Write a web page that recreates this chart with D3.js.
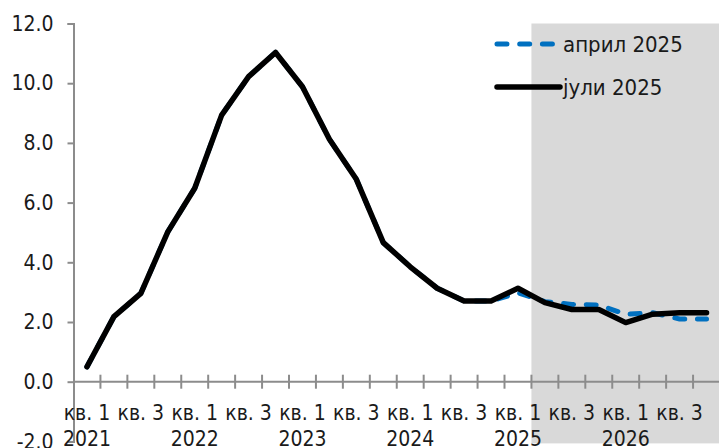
<!DOCTYPE html>
<html>
<head>
<meta charset="utf-8">
<script src="https://cdn.jsdelivr.net/npm/d3@7"></script>
<style>
  html, body { margin: 0; padding: 0; background: #ffffff; }
  svg { display: block; }
  text { font-family: "DejaVu Sans Condensed", "DejaVu Sans", sans-serif; font-stretch: condensed; fill: #1a1a1a; }
</style>
</head>
<body>
<svg id="chart" width="719" height="448"></svg>
<script>
// Quarters 2021 Q1 – 2026 Q4
const quarters = ["кв. 1","кв. 2","кв. 3","кв. 4"];
const years = [2021, 2022, 2023, 2024, 2025, 2026];
const categories = years.flatMap(y => quarters.map(q => ({ q, y })));

// Inflation path, July 2025 projection
const july2025 = [0.50, 2.18, 2.96, 5.02, 6.48, 8.93, 10.22, 11.03, 9.88, 8.12, 6.78, 4.66,
                  3.85, 3.13, 2.70, 2.70, 3.13, 2.65, 2.42, 2.42, 1.98, 2.26, 2.31, 2.31];
// Inflation path, April 2025 projection
const april2025 = [0.50, 2.18, 2.96, 5.02, 6.48, 8.93, 10.22, 11.03, 9.88, 8.12, 6.78, 4.66,
                   3.85, 3.13, 2.70, 2.70, 2.98, 2.68, 2.59, 2.57, 2.26, 2.31, 2.10, 2.10];

const yTicks = [-2, 0, 2, 4, 6, 8, 10, 12];
const forecastStart = 17; // 2025 Q2 onward is shaded

const seriesNames = ["април 2025", "јули 2025"];

const svg = d3.select("#chart");
const plotLeft = 73.5, plotRight = 720, plotTop = 23.5, plotBottom = 441.4;

const x = d3.scaleBand()
  .domain(d3.range(categories.length))
  .range([plotLeft, plotRight])
  .padding(0);
const y = d3.scaleLinear().domain([-2, 12]).range([plotBottom, plotTop]);
const cx = i => x(i) + x.bandwidth() / 2;

const axisColor = "#8c8c8c";

// shaded projection period
svg.append("rect")
  .attr("x", x(forecastStart))
  .attr("y", y(12))
  .attr("width", plotRight - x(forecastStart) + 5)
  .attr("height", y(-2) - y(12) + 2)
  .attr("fill", "#d9d9d9");

// y axis (plain hyphen for negative numbers)
const fmt = d3.format(".1f");
const yAxis = d3.axisLeft(y).tickValues(yTicks).tickSize(6).tickPadding(14)
  .tickFormat(d => fmt(d).replace("\u2212", "-"));
const gy = svg.append("g").attr("transform", `translate(${plotLeft},0)`).call(yAxis);
gy.select(".domain").attr("stroke", axisColor).attr("stroke-width", 2);
gy.selectAll(".tick line").attr("stroke", axisColor).attr("stroke-width", 2);
gy.selectAll(".tick text").attr("font-size", 21).attr("font-family", null).attr("fill", "#1a1a1a");

// x axis at zero, ticks on category boundaries crossing the line
const gx = svg.append("g");
gx.append("line")
  .attr("x1", plotLeft).attr("x2", plotRight)
  .attr("y1", y(0)).attr("y2", y(0))
  .attr("stroke", axisColor).attr("stroke-width", 2);
gx.selectAll("line.tk")
  .data(d3.range(1, categories.length + 1))
  .join("line")
  .attr("class", "tk")
  .attr("x1", i => i < categories.length ? x(i) : plotRight)
  .attr("x2", i => i < categories.length ? x(i) : plotRight)
  .attr("y1", y(0) - 7).attr("y2", y(0) + 7)
  .attr("stroke", axisColor).attr("stroke-width", 2);

// category labels every second quarter, year under the first quarter
const labelled = categories.map((c, i) => ({ ...c, i })).filter(c => c.i % 2 === 0);
const lbl = svg.append("g").selectAll("text")
  .data(labelled)
  .join("text")
  .attr("x", d => cx(d.i))
  .attr("y", 420)
  .attr("text-anchor", "middle")
  .attr("font-size", 21);
lbl.append("tspan").text(d => d.q);
lbl.append("tspan")
  .attr("x", d => cx(d.i))
  .attr("dy", 26)
  .text(d => d.q === "кв. 1" ? d.y : "");

// series lines
const line = d3.line().x((d, i) => cx(i)).y(d => y(d));

svg.append("path")
  .datum(april2025)
  .attr("d", line)
  .attr("fill", "none")
  .attr("stroke", "#0070c0")
  .attr("stroke-width", 5)
  .attr("stroke-linecap", "round")
  .attr("stroke-linejoin", "round")
  .attr("stroke-dasharray", "10 12.7");

svg.append("path")
  .datum(july2025)
  .attr("d", line)
  .attr("fill", "none")
  .attr("stroke", "#000000")
  .attr("stroke-width", 5.5)
  .attr("stroke-linecap", "round")
  .attr("stroke-linejoin", "round");

// legend
const legend = svg.append("g");
const legendItems = [
  { name: seriesNames[0], color: "#0070c0", dash: "10 12.7", w: 5, x2: 557, y: 44 },
  { name: seriesNames[1], color: "#000000", dash: null, w: 5.5, x2: 560, y: 87 }
];
legendItems.forEach(it => {
  legend.append("line")
    .attr("x1", 497).attr("x2", it.x2)
    .attr("y1", it.y).attr("y2", it.y)
    .attr("stroke", it.color).attr("stroke-width", it.w)
    .attr("stroke-linecap", "round")
    .attr("stroke-dasharray", it.dash);
  legend.append("text")
    .attr("x", 563).attr("y", it.y)
    .attr("dy", "0.36em")
    .attr("font-size", 22)
    .text(it.name);
});
</script>
</body>
</html>
